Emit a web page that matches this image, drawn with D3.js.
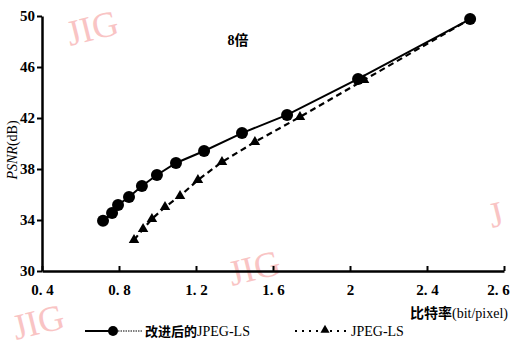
<!DOCTYPE html>
<html><head><meta charset="utf-8">
<script src="https://cdn.jsdelivr.net/npm/d3@7"></script>
<style>body{margin:0;background:#fff;}svg{display:block;}</style>
</head><body>
<script>
// Data
const improvedX = [0.717, 0.764, 0.795, 0.852, 0.919, 0.997, 1.096, 1.242, 1.439, 1.673, 2.042, 2.624];
const improvedY = [33.95, 34.55, 35.18, 35.80, 36.67, 37.53, 38.47, 39.41, 40.82, 42.24, 45.06, 49.76];
const jpegX = [0.878, 0.925, 0.971, 1.039, 1.117, 1.210, 1.335, 1.506, 1.740, 2.073, 2.624];
const jpegY = [32.43, 33.29, 34.08, 35.02, 35.88, 37.14, 38.55, 40.12, 42.08, 44.98, 49.76];
const xTickValues = [0.4, 0.8, 1.2, 1.6, 2.0, 2.4, 2.8];
const xTickLabels = ["0. 4", "0. 8", "1. 2", "1. 6", "2", "2. 4", "2. 6"];
const yTickValues = [30, 34, 38, 42, 46, 50];
const seriesNames = ["改进后的JPEG-LS", "JPEG-LS"];
const title = "8倍";

const W = 512, H = 349;
const svg = d3.select("body").append("svg").attr("width", W).attr("height", H);
const serif = "Liberation Serif";
const cjk = "Noto Sans CJK SC";

// watermarks
const wm = [[70,46,"JIG"],[492,228,"J"],[232,286,"JIG"],[16,340,"JIG"]];
svg.selectAll("text.wm").data(wm).enter().append("text")
  .attr("class","wm")
  .attr("transform", d => `translate(${d[0]},${d[1]}) rotate(-14)`)
  .style("font-family", serif).attr("font-size", 36)
  .attr("fill", "#f9c4c4").text(d => d[2]);

const x = d3.scaleLinear().domain([0.4, 2.8]).range([42, 504]);
const y = d3.scaleLinear().domain([30, 50]).range([271, 16]);

// axes
const xAxis = d3.axisBottom(x).tickValues(xTickValues)
  .tickFormat((d,i) => xTickLabels[i]).tickSizeInner(-5).tickSizeOuter(0).tickPadding(10);
const gx = svg.append("g").attr("transform", `translate(0,${y(30)})`).call(xAxis);
gx.attr("font-family", null);
gx.select(".domain").attr("stroke-width", 2.5).attr("stroke", "#000");
gx.selectAll(".tick line").attr("stroke-width", 2).attr("stroke", "#000");
gx.selectAll(".tick text").style("font-family", serif).attr("font-size", 15)
  .attr("font-weight", "bold").attr("fill", "#000").attr("dy", "0.9em")
  .attr("dx", (d,i) => i === xTickLabels.length - 1 ? -6 : 0);

const yAxis = d3.axisLeft(y).tickValues(yTickValues).tickSizeInner(5).tickSizeOuter(0).tickPadding(2);
const gy = svg.append("g").attr("transform", `translate(${x(0.4)},0)`).call(yAxis);
gy.attr("font-family", null);
gy.select(".domain").attr("stroke-width", 2.5).attr("stroke", "#000");
gy.selectAll(".tick line").attr("stroke-width", 2).attr("stroke", "#000");
gy.selectAll(".tick text").style("font-family", serif).attr("font-size", 15)
  .attr("font-weight", "bold").attr("fill", "#000");

// axis labels
const yl = svg.append("text").attr("transform", "translate(17,150) rotate(-90)")
  .attr("text-anchor", "middle").style("font-family", serif).attr("font-size", 14).attr("fill", "#000");
yl.append("tspan").attr("font-style", "italic").text("PSNR");
yl.append("tspan").text("(dB)");

const xl = svg.append("text").attr("x", 508).attr("y", 318).attr("text-anchor", "end")
  .attr("fill", "#000").attr("font-size", 14);
xl.append("tspan").style("font-family", cjk).attr("font-weight", "bold").text("比特率");
xl.append("tspan").style("font-family", serif).text("(bit/pixel)");

svg.append("text").attr("x", 238).attr("y", 45).attr("text-anchor", "middle")
  .attr("font-weight", "bold").attr("font-size", 14).attr("fill", "#000")
  .call(t => {
    t.append("tspan").style("font-family", serif).text(title.slice(0,1));
    t.append("tspan").style("font-family", cjk).text(title.slice(1));
  });

// series
const improved = improvedX.map((v,i) => [v, improvedY[i]]);
const jpeg = jpegX.map((v,i) => [v, jpegY[i]]);
const line = d3.line().x(d => x(d[0])).y(d => y(d[1]));

svg.append("path").datum(jpeg).attr("d", line).attr("fill", "none")
  .attr("stroke", "#000").attr("stroke-width", 2.2).attr("stroke-dasharray", "6,4");
svg.append("path").datum(improved).attr("d", line).attr("fill", "none")
  .attr("stroke", "#000").attr("stroke-width", 2);

const tri = d3.symbol().type(d3.symbolTriangle).size(48);
svg.selectAll("path.tri").data(jpeg).enter().append("path").attr("class", "tri")
  .attr("d", tri).attr("transform", d => `translate(${x(d[0])},${y(d[1])})`).attr("fill", "#000");
svg.selectAll("circle.pt").data(improved).enter().append("circle").attr("class", "pt")
  .attr("cx", d => x(d[0])).attr("cy", d => y(d[1])).attr("r", 6).attr("fill", "#000");

// legend
const ly = 331;
svg.append("line").attr("x1", 85).attr("x2", 113).attr("y1", ly).attr("y2", ly)
  .attr("stroke", "#000").attr("stroke-width", 2);
svg.append("line").attr("x1", 113).attr("x2", 142).attr("y1", ly).attr("y2", ly)
  .attr("stroke", "#000").attr("stroke-width", 1).attr("stroke-dasharray", "1.5,1");
svg.append("circle").attr("cx", 113).attr("cy", ly).attr("r", 5).attr("fill", "#000");
const lt = svg.append("text").attr("x", 145).attr("y", ly + 5).attr("font-size", 14).attr("fill", "#000");
lt.append("tspan").style("font-family", cjk).attr("font-weight", "bold").attr("font-size", 13)
  .text(seriesNames[0].slice(0,4));
lt.append("tspan").style("font-family", serif).text(seriesNames[0].slice(4));
svg.append("line").attr("x1", 295).attr("x2", 351).attr("y1", ly).attr("y2", ly)
  .attr("stroke", "#000").attr("stroke-width", 2).attr("stroke-dasharray", "2,5");
svg.append("path").attr("d", d3.symbol().type(d3.symbolTriangle).size(36))
  .attr("transform", `translate(325,${ly - 1})`).attr("fill", "#000");
svg.append("text").attr("x", 351).attr("y", ly + 5).style("font-family", serif)
  .attr("font-size", 14).attr("fill", "#000").text(seriesNames[1]);
</script>
</body></html>
